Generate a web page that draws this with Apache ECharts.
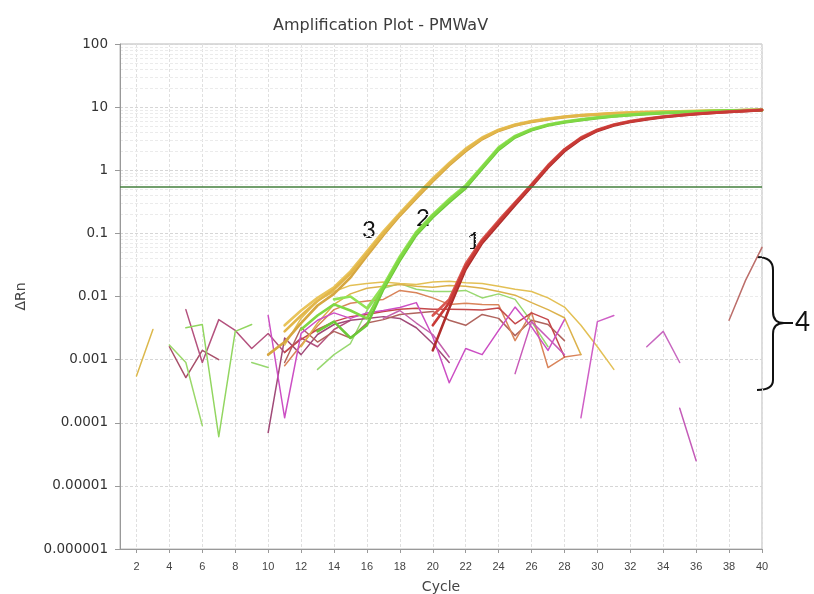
<!DOCTYPE html>
<html>
<head>
<meta charset="utf-8">
<title>Amplification Plot - PMWaV</title>
<script src="https://cdn.jsdelivr.net/npm/echarts@6/dist/echarts.min.js"></script>
<style>
  html, body { margin: 0; padding: 0; background: #ffffff; }
  #chart { width: 814px; height: 594px; }
</style>
</head>
<body>
<div id="chart"></div>
<script>
// Cycle numbers on the x axis
const cycles = [1, 2, 3, 4, 5, 6, 7, 8, 9, 10, 11, 12, 13, 14, 15, 16, 17, 18, 19, 20,
                21, 22, 23, 24, 25, 26, 27, 28, 29, 30, 31, 32, 33, 34, 35, 36, 37, 38, 39, 40];
const xTickCycles = [2, 4, 6, 8, 10, 12, 14, 16, 18, 20, 22, 24, 26, 28, 30, 32, 34, 36, 38, 40];
const yTickLabels = ['0.000001', '0.00001', '0.0001', '0.001', '0.01', '0.1', '1', '10', '100'];
const threshold = 0.54;

const _ = null;

// Sample 3 (three replicates), cycles 1..40
const sample3a = [_, _, _, _, _, _, _, _, _, _,
  0.0028, 0.005, 0.0085, 0.013, 0.023, 0.048, 0.1, 0.2, 0.38, 0.7,
  1.25, 2.1, 3.2, 4.3, 5.2, 5.9, 6.5, 7.0, 7.4, 7.7,
  7.95, 8.15, 8.3, 8.45, 8.55, 8.65, 8.75, 8.85, 8.95, 9.05];
const sample3b = [_, _, _, _, _, _, _, _, _, 0.0012,
  0.0019, 0.0038, 0.0072, 0.011, 0.02, 0.044, 0.094, 0.19, 0.36, 0.67,
  1.2, 2.0, 3.1, 4.2, 5.1, 5.8, 6.4, 6.9, 7.3, 7.6,
  7.85, 8.05, 8.2, 8.35, 8.45, 8.55, 8.65, 8.75, 8.85, 8.95];
const sample3c = [_, _, _, _, _, _, _, _, _, _,
  0.0035, 0.006, 0.0095, 0.014, 0.025, 0.052, 0.108, 0.21, 0.4, 0.74,
  1.3, 2.2, 3.3, 4.4, 5.3, 6.0, 6.6, 7.1, 7.5, 7.8,
  8.05, 8.25, 8.4, 8.5, 8.6, 8.7, 8.8, 8.9, 9.0, 9.1];

// Sample 2
const sample2a = [_, _, _, _, _, _, _, _, _, _,
  _, 0.003, 0.005, 0.0075, 0.006, 0.0045, 0.014, 0.04, 0.1, 0.19,
  0.33, 0.55, 1.1, 2.2, 3.4, 4.4, 5.2, 5.8, 6.3, 6.8,
  7.2, 7.55, 7.85, 8.1, 8.3, 8.5, 8.65, 8.8, 8.9, 9.0];
const sample2b = [_, _, _, _, _, _, _, _, _, _,
  _, _, 0.0028, 0.004, 0.0022, 0.0035, 0.013, 0.037, 0.094, 0.18,
  0.31, 0.52, 1.05, 2.1, 3.3, 4.3, 5.1, 5.7, 6.2, 6.7,
  7.1, 7.45, 7.75, 8.0, 8.2, 8.4, 8.55, 8.7, 8.8, 8.9];
const sample2c = [_, _, _, _, _, _, _, _, _, _,
  _, _, _, 0.009, 0.01, 0.0065, 0.015, 0.043, 0.106, 0.2,
  0.35, 0.58, 1.15, 2.3, 3.5, 4.5, 5.3, 5.9, 6.4, 6.9,
  7.3, 7.65, 7.95, 8.2, 8.4, 8.6, 8.75, 8.85, 8.95, 9.05];

// Sample 1
const sample1a = [_, _, _, _, _, _, _, _, _, _,
  _, _, _, _, _, _, _, _, _, 0.0035,
  0.008, 0.03, 0.075, 0.15, 0.3, 0.58, 1.15, 2.1, 3.2, 4.3,
  5.2, 5.9, 6.5, 7.0, 7.4, 7.8, 8.1, 8.4, 8.7, 9.0];
const sample1b = [_, _, _, _, _, _, _, _, _, _,
  _, _, _, _, _, _, _, _, _, 0.0014,
  0.0065, 0.027, 0.07, 0.14, 0.28, 0.55, 1.1, 2.0, 3.1, 4.2,
  5.1, 5.8, 6.4, 6.9, 7.35, 7.75, 8.05, 8.35, 8.65, 8.95];
const sample1c = [_, _, _, _, _, _, _, _, _, _,
  _, _, _, _, _, _, _, _, _, 0.005,
  0.009, 0.033, 0.08, 0.16, 0.31, 0.6, 1.2, 2.15, 3.3, 4.4,
  5.3, 6.0, 6.6, 7.1, 7.5, 7.9, 8.2, 8.5, 8.8, 9.1];

// Background wells (no amplification)
const bgGold1 = [_, 0.00055, 0.003, _, _, _, _, _, _, _,
  _, _, _, _, _, _, _, _, _, _, _, _, _, _, _, _, _, _, _, _, _, _, _, _, _, _, _, _, _, _];
const bgMauve1 = [_, _, _, 0.0016, 0.00052, 0.0014, 0.001, _, _, _,
  _, _, _, _, _, _, _, _, _, _, _, _, _, _, _, _, _, _, _, _, _, _, _, _, _, _, _, _, _, _];
const bgMauve2 = [_, _, _, _, 0.0062, 0.0009, 0.0043, 0.0029, 0.0015, 0.0026,
  0.0013, 0.0022, 0.0016, 0.003, 0.0042, _, _, _, _, _,
  _, _, _, _, _, _, _, _, _, _, _, _, _, _, _, _, _, _, _, _];
const bgGreen1 = [_, _, _, _, 0.0032, 0.0036, 0.00006, 0.0028, 0.0036, _,
  _, _, _, _, _, _, _, _, _, _, _, _, _, _, _, _, _, _, _, _, _, _, _, _, _, _, _, _, _, _];
const bgGreen2 = [_, _, _, 0.0017, 0.0009, 0.00009, _, _, _, _,
  _, _, _, _, _, _, _, _, _, _, _, _, _, _, _, _, _, _, _, _, _, _, _, _, _, _, _, _, _, _];
const bgGreen3 = [_, _, _, _, _, _, _, _, 0.0009, 0.00075,
  _, _, 0.0007, 0.0012, 0.0018, 0.006, 0.0135, 0.016, 0.013, 0.012,
  0.012, 0.0125, 0.0095, 0.011, 0.009, 0.004, 0.0016, _, _, _,
  _, _, _, _, _, _, _, _, _, _];
const bgMagenta1 = [_, _, _, _, _, _, _, _, _, 0.005,
  0.00012, 0.0026, 0.0042, 0.0055, 0.0045, 0.0055, 0.006, 0.0067, 0.008, 0.0023,
  0.00043, 0.0015, 0.0012, 0.0029, 0.0068, 0.0033, 0.0014, 0.0043, _, _,
  _, _, _, _, _, _, _, _, _, _];
const bgMauve3 = [_, _, _, _, _, _, _, _, _, 0.00007,
  0.0022, 0.0012, 0.0025, 0.0036, 0.0042, 0.0045, 0.0048, 0.0045, 0.0032, 0.0018,
  0.0009, _, _, _, _, _, _, _, _, _,
  _, _, _, _, _, _, _, _, _, _];
const bgBrown2 = [_, _, _, _, _, _, _, _, _, _,
  0.0009, 0.0032, 0.0019, 0.0028, 0.0022, 0.0038, 0.0043, 0.0052, 0.0055, 0.0058,
  0.0042, 0.0035, 0.0052, 0.0045, 0.0024, 0.0042, 0.0036, 0.002, _, _,
  _, _, _, _, _, _, _, _, _, _];
const bgOrange1 = [_, _, _, _, _, _, _, _, _, _,
  0.0008, 0.0017, 0.0034, 0.0062, 0.0078, 0.0085, 0.009, 0.0125, 0.0115, 0.0095,
  0.0075, 0.0078, 0.0075, 0.0074, 0.002, 0.0056, 0.00075, 0.0011, 0.0012, _,
  _, _, _, _, _, _, _, _, _, _];
const bgRed1 = [_, _, _, _, _, _, _, _, _, _,
  0.0013, 0.0021, 0.003, 0.004, 0.0048, 0.0052, 0.0058, 0.0063, 0.0065, 0.0063,
  0.0063, 0.0062, 0.0061, 0.0066, 0.0037, 0.0055, 0.0043, 0.0011, _, _,
  _, _, _, _, _, _, _, _, _, _];
const bgGold2 = [_, _, _, _, _, _, _, _, _, _,
  0.0017, 0.0045, 0.0085, 0.012, 0.015, 0.016, 0.017, 0.016, 0.0155, 0.017,
  0.0175, 0.0165, 0.016, 0.0145, 0.013, 0.012, 0.0095, 0.0068, 0.0035, 0.0016,
  0.0007, _, _, _, _, _, _, _, _, _];
const bgGold3 = [_, _, _, _, _, _, _, _, _, _,
  _, 0.0016, 0.0038, 0.0075, 0.011, 0.0135, 0.0145, 0.0155, 0.0145, 0.014,
  0.015, 0.0145, 0.0135, 0.012, 0.0105, 0.008, 0.0062, 0.0046, 0.0012, _,
  _, _, _, _, _, _, _, _, _, _];
const bgPink1 = [_, _, _, _, _, _, _, _, _, _,
  _, _, _, _, _, _, 0.0045, 0.006, 0.0038, 0.0025,
  0.0011, _, _, _, _, _, _, _, _, _,
  _, _, _, _, _, _, _, _, _, _];
const bgMagenta2 = [_, _, _, _, _, _, _, _, _, _,
  _, _, _, _, _, _, _, _, _, _,
  _, _, _, _, 0.0006, 0.004, 0.0022, 0.0012, _, _,
  _, _, _, _, _, _, _, _, _, _];
const bgMagenta3 = [_, _, _, _, _, _, _, _, _, _,
  _, _, _, _, _, _, _, _, _, _,
  _, _, _, _, _, _, _, _, 0.00012, 0.004,
  0.005, _, _, _, _, _, _, _, _, _];
const bgMagenta4 = [_, _, _, _, _, _, _, _, _, _,
  _, _, _, _, _, _, _, _, _, _,
  _, _, _, _, _, _, _, _, _, _,
  _, _, 0.0016, 0.0028, 0.0009, _, _, _, _, _];
const bgMagenta5 = [_, _, _, _, _, _, _, _, _, _,
  _, _, _, _, _, _, _, _, _, _,
  _, _, _, _, _, _, _, _, _, _,
  _, _, _, _, 0.00017, 0.000025, _, _, _, _];
const bgBrown1 = [_, _, _, _, _, _, _, _, _, _,
  _, _, _, _, _, _, _, _, _, _,
  _, _, _, _, _, _, _, _, _, _,
  _, _, _, _, _, _, _, 0.0042, 0.018, 0.06];

// Drawing order: background wells first, amplification curves on top
const traces = [
  { values: bgGold1, color: '#dcb84c', width: 1.5 },
  { values: bgMauve1, color: '#a8506a', width: 1.5 },
  { values: bgMauve2, color: '#b4527e', width: 1.5 },
  { values: bgGreen1, color: '#92d660', width: 1.5 },
  { values: bgGreen2, color: '#9ad86a', width: 1.5 },
  { values: bgGreen3, color: '#98d870', width: 1.5 },
  { values: bgMauve3, color: '#a04a78', width: 1.5 },
  { values: bgBrown2, color: '#b0645e', width: 1.5 },
  { values: bgOrange1, color: '#d9845a', width: 1.5 },
  { values: bgRed1, color: '#c4484a', width: 1.5 },
  { values: bgGold2, color: '#e3c055', width: 1.5 },
  { values: bgGold3, color: '#dcb24c', width: 1.5 },
  { values: bgMagenta1, color: '#cc4fc4', width: 1.5 },
  { values: bgPink1, color: '#c462ac', width: 1.5 },
  { values: bgMagenta2, color: '#c85ab8', width: 1.5 },
  { values: bgMagenta3, color: '#cf5fc6', width: 1.5 },
  { values: bgMagenta4, color: '#c868c0', width: 1.5 },
  { values: bgMagenta5, color: '#c45cb8', width: 1.5 },
  { values: bgBrown1, color: '#bc6e6a', width: 1.5 },
  { values: sample3b, color: '#d6a640', width: 2.6 },
  { values: sample3c, color: '#e9c45a', width: 2.6 },
  { values: sample3a, color: '#e2b64a', width: 2.6 },
  { values: sample2b, color: '#6cc838', width: 2.6 },
  { values: sample2c, color: '#92e255', width: 2.6 },
  { values: sample2a, color: '#80d844', width: 2.6 },
  { values: sample1b, color: '#b02e2c', width: 2.6 },
  { values: sample1c, color: '#d8554e', width: 2.6 },
  { values: sample1a, color: '#c93a36', width: 2.6 }
];

const series = traces.map(function (t) {
  return {
    type: 'line',
    z: 3,
    data: cycles.map(function (c, i) { return [c, t.values[i] == null ? '-' : t.values[i]]; }),
    showSymbol: false,
    symbol: 'none',
    connectNulls: false,
    silent: true,
    animation: false,
    lineStyle: { color: t.color, width: t.width, join: 'round', cap: 'round' }
  };
});

// Log-axis minor grid (2..9 within every decade), kept underneath the curves
const minorLines = [];
for (let e = -6; e <= 1; e++) {
  for (let k = 2; k <= 9; k++) {
    minorLines.push({ yAxis: k * Math.pow(10, e) });
  }
}
series.unshift({
  type: 'line',
  z: 0,
  data: [],
  silent: true,
  animation: false,
  markLine: {
    z: 0,
    silent: true,
    symbol: 'none',
    animation: false,
    label: { show: false },
    lineStyle: { color: '#ebebeb', width: 1, type: [3, 2] },
    data: minorLines
  }
});
// Threshold line
series.push({
  type: 'line',
  z: 4,
  data: [],
  silent: true,
  animation: false,
  markLine: {
    z: 4,
    silent: true,
    symbol: 'none',
    animation: false,
    label: { show: false },
    lineStyle: { color: '#437f3c', width: 1.5, type: 'solid' },
    data: [{ yAxis: threshold }]
  }
});

// Curly brace grouping the background wells
const braceStyle = { fill: null, stroke: '#111', lineWidth: 2 };
const brace = [
  { type: 'bezierCurve', shape: { x1: 757, y1: 257, cpx1: 768, cpy1: 257, cpx2: 773, cpy2: 261, x2: 773, y2: 270 }, style: braceStyle },
  { type: 'line', shape: { x1: 773, y1: 270, x2: 773, y2: 312 }, style: braceStyle },
  { type: 'bezierCurve', shape: { x1: 773, y1: 312, cpx1: 773, cpy1: 319, cpx2: 777, cpy2: 323, x2: 784, y2: 323 }, style: braceStyle },
  { type: 'line', shape: { x1: 784, y1: 323, x2: 793, y2: 323 }, style: braceStyle },
  { type: 'bezierCurve', shape: { x1: 784, y1: 323, cpx1: 777, cpy1: 323, cpx2: 773, cpy2: 327, x2: 773, y2: 334 }, style: braceStyle },
  { type: 'line', shape: { x1: 773, y1: 334, x2: 773, y2: 380 }, style: braceStyle },
  { type: 'bezierCurve', shape: { x1: 773, y1: 380, cpx1: 773, cpy1: 387, cpx2: 768, cpy2: 390, x2: 757, y2: 390 }, style: braceStyle }
];

const labelFont = '24px Lato, "Open Sans", sans-serif';
const annotations = [
  { type: 'text', x: 362, y: 218, style: { text: '3', font: labelFont, fill: '#111' } },
  { type: 'text', x: 416, y: 206, style: { text: '2', font: labelFont, fill: '#111' } },
  { type: 'text', x: 467, y: 229, style: { text: '1', font: labelFont, fill: '#111' } },
  { type: 'text', x: 795, y: 310, style: { text: '4', font: '26px Lato, "Open Sans", sans-serif', fill: '#111' } }
];

const chart = echarts.init(document.getElementById('chart'), null, { renderer: 'canvas' });
chart.setOption({
  animation: false,
  backgroundColor: '#ffffff',
  title: {
    text: 'Amplification Plot - PMWaV',
    left: 268,
    top: 13,
    textStyle: { fontFamily: '"DejaVu Sans", sans-serif', fontSize: 16, fontWeight: 'normal', color: '#3c3c3c' }
  },
  grid: {
    left: 120, right: 52, top: 44, bottom: 45,
    outerBoundsMode: 'none',
    containLabel: false,
    show: true, borderColor: '#b8b8b8', borderWidth: 1, backgroundColor: 'transparent'
  },
  xAxis: {
    type: 'value',
    min: 1,
    max: 40,
    interval: 1,
    name: 'Cycle',
    nameLocation: 'middle',
    nameGap: 31,
    nameTextStyle: { fontFamily: '"DejaVu Sans", sans-serif', fontSize: 14, color: '#444' },
    axisLine: { lineStyle: { color: '#999', width: 1 } },
    axisTick: { show: true, length: 4, customValues: xTickCycles, lineStyle: { color: '#999' } },
    axisLabel: {
      customValues: xTickCycles,
      margin: 12,
      fontFamily: '"Liberation Sans", Arial, sans-serif',
      fontSize: 11,
      color: '#444',
      formatter: function (v) { return v % 2 === 0 ? String(v) : ''; }
    },
    splitLine: { show: true, lineStyle: { color: '#e0e0e0', width: 1, type: [3, 2] } }
  },
  yAxis: {
    type: 'log',
    logBase: 10,
    min: 0.000001,
    max: 100,
    name: 'ΔRn',
    nameLocation: 'middle',
    nameGap: 92,
    nameRotate: 90,
    nameTextStyle: { fontFamily: '"DejaVu Sans", sans-serif', fontSize: 14, color: '#444' },
    axisLine: { show: true, lineStyle: { color: '#999', width: 1 } },
    axisTick: { show: true, length: 5, lineStyle: { color: '#999' } },
    axisLabel: {
      margin: 12,
      fontFamily: '"DejaVu Sans", sans-serif',
      fontSize: 13.5,
      color: '#333',
      formatter: function (v) {
        const e = Math.round(Math.log10(v));
        return yTickLabels[e + 6];
      }
    },
    splitLine: { show: true, lineStyle: { color: '#d6d6d6', width: 1, type: [3, 2] } }
  },
  series: series,
  graphic: brace.concat(annotations)
});
</script>
</body>
</html>
